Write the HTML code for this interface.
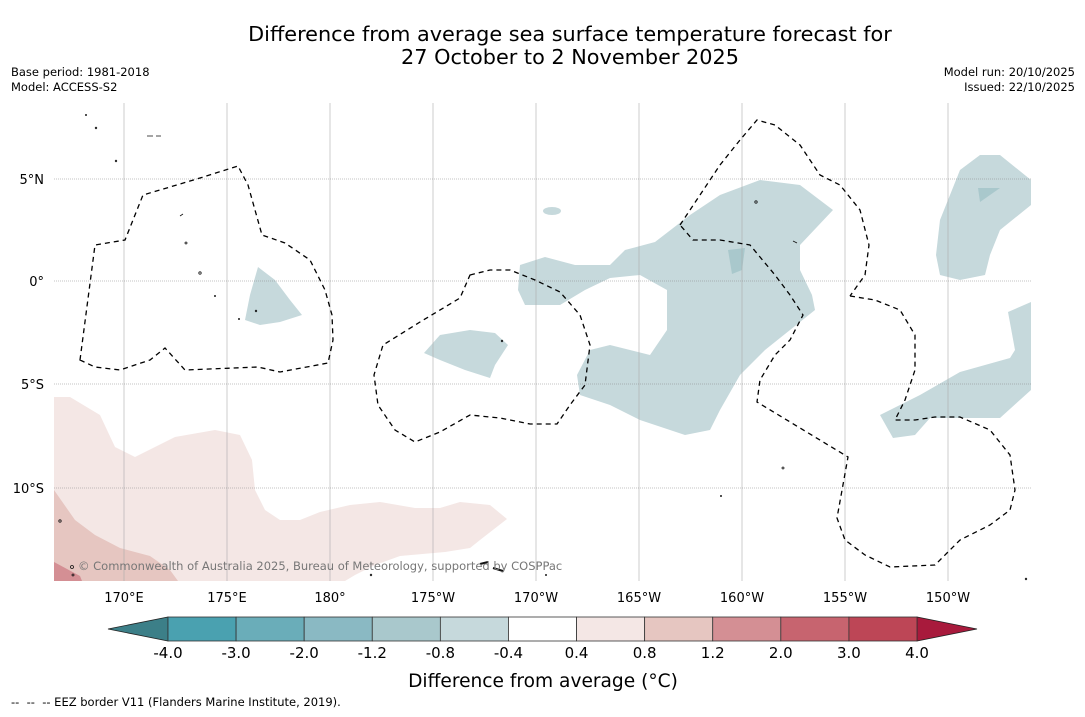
<!DOCTYPE html>
<html><head><meta charset="utf-8"><style>
body{margin:0;background:#fff;font-family:"DejaVu Sans","Liberation Sans",sans-serif;}
svg text{font-family:"DejaVu Sans","Liberation Sans",sans-serif;}
</style></head><body>
<svg id="s" width="1085" height="713" viewBox="0 0 1085 713" xmlns="http://www.w3.org/2000/svg">
<rect width="1085" height="713" fill="#fff"/>
<text x="570" y="41" font-size="20.8" text-anchor="middle">Difference from average sea surface temperature forecast for</text>
<text x="570" y="64" font-size="20.8" text-anchor="middle">27 October to 2 November 2025</text>
<text x="11" y="76" font-size="11.5">Base period: 1981-2018</text>
<text x="11" y="91" font-size="11.5">Model: ACCESS-S2</text>
<text x="1075" y="76" font-size="11.5" text-anchor="end">Model run: 20/10/2025</text>
<text x="1075" y="91" font-size="11.5" text-anchor="end">Issued: 22/10/2025</text>
<defs><clipPath id="mc"><rect x="54" y="103" width="977" height="478"/></clipPath></defs>
<g clip-path="url(#mc)">
<polygon fill="#f4e7e5" points="54,397 70,397 100,415 115,447 135,457 175,437 215,430 240,435 252,460 255,490 265,510 280,520 300,520 320,512 350,505 380,502 415,508 440,508 460,502 490,505 507,519 480,540 470,548 445,552 400,556 375,565 355,575 345,581 54,581"/>
<polygon fill="#e6c6c1" points="54,490 75,520 95,535 120,548 150,556 170,570 178,581 54,581"/>
<polygon fill="#d48f94" points="54,562 80,576 82,581 54,581"/>
<g fill="#c6d9dc">
<polygon points="520,265 545,257 575,265 610,265 625,250 655,242 690,215 720,195 760,180 800,185 833,210 800,245 800,270 812,295 815,310 790,330 765,350 740,375 720,410 710,430 685,435 640,420 610,405 580,395 577,375 590,350 610,345 650,355 667,330 667,290 640,275 610,278 585,290 560,305 525,305 518,290"/>
<ellipse cx="552" cy="211" rx="9" ry="4"/>
<polygon points="258,267 275,280 290,300 302,315 280,322 260,325 245,320 250,295"/>
<polygon points="440,335 470,330 495,333 508,345 495,365 490,378 465,370 440,360 424,353"/>
<polygon points="940,220 960,170 980,155 1000,155 1031,180 1031,205 1000,230 990,255 985,275 960,280 940,275 936,255"/>
<polygon points="880,415 920,395 960,372 1010,358 1015,350 1008,312 1031,302 1031,390 1000,418 930,418 915,435 893,438"/>
</g>
<g fill="#a9c8cc"><polygon points="728,250 745,248 742,270 732,274"/><polygon points="978,188 1000,188 980,202"/></g>
<g stroke="#aaa" stroke-width="0.6">
<line x1="124" y1="103" x2="124" y2="581"/><line x1="227" y1="103" x2="227" y2="581"/><line x1="330" y1="103" x2="330" y2="581"/><line x1="433" y1="103" x2="433" y2="581"/><line x1="536" y1="103" x2="536" y2="581"/><line x1="639" y1="103" x2="639" y2="581"/><line x1="742" y1="103" x2="742" y2="581"/><line x1="845" y1="103" x2="845" y2="581"/><line x1="948" y1="103" x2="948" y2="581"/>
<g stroke-dasharray="1,1" stroke="#888"><line x1="54" y1="179" x2="1031" y2="179"/><line x1="54" y1="281" x2="1031" y2="281"/><line x1="54" y1="384" x2="1031" y2="384"/><line x1="54" y1="488" x2="1031" y2="488"/></g>
</g>
<g fill="none" stroke="#000" stroke-width="1.3" stroke-dasharray="5,4">
<polygon points="80,360 95,245 125,240 143,195 170,187 200,178 238,166 248,185 262,235 285,243 310,260 325,290 332,315 333,340 328,363 280,372 258,367 185,370 165,348 150,360 120,370 95,367"/>
<polygon points="470,275 490,270 510,270 535,280 560,292 580,315 590,345 585,385 570,405 557,424 530,424 500,418 470,415 440,432 415,442 395,430 378,405 374,375 383,345 420,322 460,298"/>
<polyline points="680,225 700,195 720,165 740,140 757,120 775,125 800,145 820,175 840,185 860,210 869,245 865,275 850,296"/>
<polyline points="850,296 875,300 900,310 915,335 915,370 905,400 895,420 915,420 935,417 960,417 990,430 1010,455 1015,490 1010,510 990,525 960,540 935,565 890,567 865,555 845,540 837,518 848,457 757,402 760,380 775,355 790,340 803,315 790,295 775,275 750,245 720,240 693,240 680,225"/>
</g>
<g fill="none" stroke="#111" stroke-width="0.8">
<circle cx="86" cy="115" r="0.6"/><circle cx="96" cy="128" r="0.8"/><path d="M147,136 h6 M156,136 h5"/><circle cx="116" cy="161" r="0.8"/><path d="M180,216 l3,-2"/><circle cx="186" cy="243" r="1"/><circle cx="200" cy="273" r="1.2"/><circle cx="215" cy="296" r="0.6"/><circle cx="239" cy="319" r="0.6"/><circle cx="256" cy="311" r="0.8"/><circle cx="502" cy="341" r="0.8"/><circle cx="756" cy="202" r="1.2"/><path d="M793,241 l4,2"/><circle cx="783" cy="468" r="1"/><circle cx="721" cy="496" r="0.6"/><path d="M480,564 l8,-2 M493,568 l10,3" stroke-width="2"/><circle cx="60" cy="521" r="1.2"/><circle cx="72" cy="567" r="1.5"/><circle cx="73" cy="575" r="1"/><circle cx="1026" cy="579" r="0.8"/><circle cx="371" cy="575" r="0.8"/><circle cx="546" cy="575" r="0.6"/>
</g>
<text x="78" y="570" font-size="11.5" fill="#777">© Commonwealth of Australia 2025, Bureau of Meteorology, supported by COSPPac</text>
</g>
<g font-size="13" text-anchor="middle">
<text x="124" y="602">170°E</text><text x="227" y="602">175°E</text><text x="330" y="602">180°</text><text x="433" y="602">175°W</text><text x="536" y="602">170°W</text><text x="639" y="602">165°W</text><text x="742" y="602">160°W</text><text x="845" y="602">155°W</text><text x="948" y="602">150°W</text>
</g>
<g font-size="13" text-anchor="end">
<text x="44" y="184">5°N</text><text x="44" y="286">0°</text><text x="44" y="389">5°S</text><text x="44" y="493">10°S</text>
</g>
<g id="cb"></g>
<text x="543" y="687" font-size="18.6" text-anchor="middle">Difference from average (°C)</text>
<text x="11" y="706" font-size="11.5">-- &#160;-- &#160;-- EEZ border V11 (Flanders Marine Institute, 2019).</text>
</svg>
<script>
const levels=["-4.0","-3.0","-2.0","-1.2","-0.8","-0.4","0.4","0.8","1.2","2.0","3.0","4.0"];
const binColors=["#4aa1b0","#6aadb9","#8ab9c3","#a9c8cc","#c6d9dc","#ffffff","#f4e7e5","#e6c6c1","#d48f94","#c7646f","#bd4656"];
const extColors=["#3c7f88","#a81a3c"];
const NS="http://www.w3.org/2000/svg";
const cb=document.getElementById('cb');
const x0=168,x1=917,y0=617,y1=641,w=(x1-x0)/binColors.length;
function mk(t,a){const e=document.createElementNS(NS,t);for(const k in a)e.setAttribute(k,a[k]);cb.appendChild(e);return e;}
let l=mk('polygon',{points:`108,629 ${x0},${y0} ${x0},${y1}`,fill:extColors[0],stroke:'#222','stroke-width':0.8});


let r=mk('polygon',{points:`977,629 ${x1},${y0} ${x1},${y1}`,fill:extColors[1],stroke:'#222','stroke-width':0.8});


binColors.forEach((c,i)=>{
 const b=mk('rect',{x:x0+i*w,y:y0,width:w,height:y1-y0,fill:c,stroke:'#333','stroke-width':0.8});
 
 
});
levels.forEach((t,i)=>{
 const e=mk('text',{x:x0+i*w,y:658,'font-size':15,'text-anchor':'middle'});
 e.textContent=t;
 
 
});
</script>
</body></html>
